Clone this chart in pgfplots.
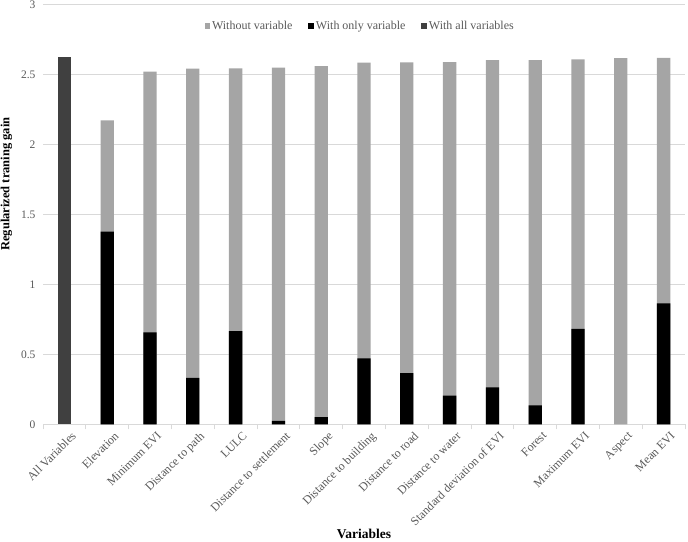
\documentclass[border=0pt]{standalone}
\usepackage{fontspec}
\setmainfont{Liberation Serif}
\usepackage{pgfplots}
\pgfplotsset{compat=1.18}
\definecolor{wo}{HTML}{A5A5A5}
\definecolor{allv}{HTML}{404040}
\definecolor{tickc}{HTML}{595959}
\definecolor{gridc}{HTML}{D9D9D9}
\begin{document}
\begin{tikzpicture}
\begin{axis}[
  width=642bp, height=420bp, scale only axis,
  xmin=-0.5, xmax=14.5, ymin=0, ymax=3,
  ytick={0,0.5,1,1.5,2,2.5,3},
  xtick={0,...,14},
  xticklabels={All Variables, Elevation, Minimum EVI, Distance to path, LULC, Distance to settlement, Slope, Distance to building, Distance to road, Distance to water, Standard deviation of EVI, Forest, Maximum EVI, Aspect, Mean EVI},
  minor xtick={-0.5,0.5,...,14.5},
  major tick length=0pt,
  minor tick length=5bp,
  tick align=outside,
  minor tick style={gridc, line width=0.75bp},
  axis x line*=bottom, axis y line*=left,
  y axis line style={draw=none},
  x axis line style={gridc, line width=0.75bp},
  ymajorgrids, grid style={gridc, line width=0.75bp},
  /pgf/number format/assume math mode=true,
  yticklabel style={font=\fontsize{11.5bp}{13bp}\selectfont, text=tickc, xshift=-4bp},
  xticklabel style={font=\fontsize{12bp}{14bp}\selectfont, text=tickc, rotate=45, anchor=north east, yshift=-8bp, xshift=1bp, inner sep=1bp},
  ylabel={Regularized traning gain},
  ylabel style={font=\fontsize{12.5bp}{14bp}\selectfont\bfseries, at={(axis description cs:-0.057,0.572)}, anchor=center},
  xlabel={Variables},
  xlabel style={font=\fontsize{13.5bp}{15bp}\selectfont\bfseries, at={(axis description cs:0.5,-0.261)}, anchor=center},
  legend style={at={(axis description cs:0.494,0.948)}, anchor=center, draw=none, fill=none,
     font=\fontsize{12bp}{14bp}\selectfont, text=tickc,
     /tikz/every even column/.append style={column sep=14bp}},
  legend columns=3,
]
\addplot[ybar, bar width=13.3bp, bar shift=0pt, fill=wo, draw=none,
  legend image code/.code={\fill[wo] (0bp,-2.5bp) rectangle (5.5bp,3bp);}]
  coordinates {(1,2.171) (2,2.519) (3,2.540) (4,2.543) (5,2.548) (6,2.559) (7,2.583) (8,2.586) (9,2.587) (10,2.602) (11,2.602) (12,2.607) (13,2.616) (14,2.617)};
\addlegendentry{Without variable}
\addplot[ybar, bar width=13.3bp, bar shift=0pt, fill=black, draw=none,
  legend image code/.code={\fill[black] (0bp,-2.5bp) rectangle (5.5bp,3bp);}]
  coordinates {(1,1.376) (2,0.657) (3,0.331) (4,0.666) (5,0.024) (6,0.052) (7,0.471) (8,0.366) (9,0.204) (10,0.264) (11,0.136) (12,0.681) (14,0.864)};
\addlegendentry{With only variable}
\addplot[ybar, bar width=13.3bp, bar shift=0pt, fill=allv, draw=none,
  legend image code/.code={\fill[allv] (0bp,-2.5bp) rectangle (5.5bp,3bp);}]
  coordinates {(0,2.621)};
\addlegendentry{With all variables}
\end{axis}
\pgfresetboundingbox
\useasboundingbox (-43bp,-117.7bp) rectangle (645bp,424.3bp);
\end{tikzpicture}
\end{document}
